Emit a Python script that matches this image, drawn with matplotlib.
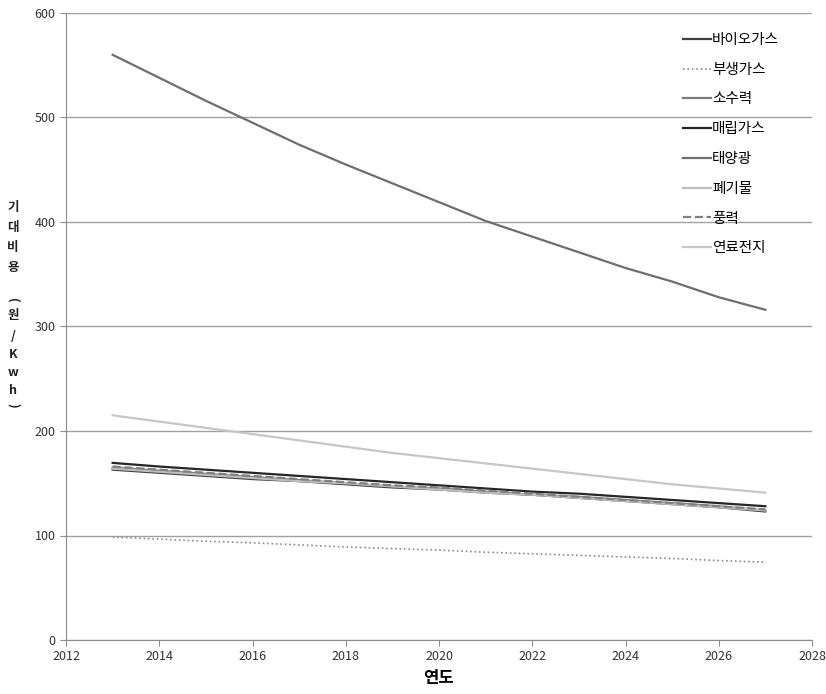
import matplotlib
matplotlib.use('Agg')
import matplotlib.pyplot as plt

plt.rcParams['font.family'] = ['Noto Sans CJK KR', 'DejaVu Sans']

years = list(range(2013, 2028))

# 원/Kwh
bio_gas = [163, 160, 157, 154, 152, 149, 146, 144, 141, 139, 136, 133, 130, 127, 123]
byproduct_gas = [98.5, 96.5, 94.5, 93, 91, 89, 87.5, 86, 84, 82.5, 81, 79.5, 78, 76, 74.5]
small_hydro = [165, 162, 159, 156, 153, 150, 147, 145, 142, 139, 137, 134, 131, 128, 124]
landfill_gas = [169.5, 166, 163, 160, 157, 154, 151, 148, 145, 142, 140, 137, 134, 131, 128]
solar = [560, 538, 516, 495, 474, 455, 437, 419, 401, 386, 371, 356, 343, 328, 316]
waste = [164, 161, 158, 155, 152, 150, 147, 144, 141, 139, 136, 133, 130, 127, 124]
wind = [166, 163, 160, 157, 154, 151, 148, 146, 143, 140, 137, 134, 131, 128, 125]
fuel_cell = [215, 209, 203, 197, 191, 185, 179, 174, 169, 164, 159, 154, 149, 145, 141]

series = [
    ('바이오가스', bio_gas, '#3f3f3f', '-'),
    ('부생가스', byproduct_gas, '#8c8c8c', ':'),
    ('소수력', small_hydro, '#7a7a7a', '-'),
    ('매립가스', landfill_gas, '#262626', '-'),
    ('태양광', solar, '#6e6e6e', '-'),
    ('폐기물', waste, '#bdbdbd', '-'),
    ('풍력', wind, '#808080', '--'),
    ('연료전지', fuel_cell, '#c6c6c6', '-'),
]

W, H = 826, 694
fig = plt.figure(figsize=(W / 100, H / 100), dpi=100)
ax = fig.add_axes([66 / W, 54 / H, (812 - 66) / W, (640 - 13) / H])

for name, vals, col, ls in series:
    lw = 1.2 if ls == ':' else 1.6
    ax.plot(years, vals, color=col, linestyle=ls, linewidth=lw, label=name)

ax.set_xlim(2012, 2028)
ax.set_ylim(0, 600)
ax.set_xticks(range(2012, 2029, 2))
ax.set_yticks(range(0, 601, 100))
ax.grid(axis='y', color='#a0a0a0', linewidth=1)
ax.set_axisbelow(True)
for s in ['top', 'right']:
    ax.spines[s].set_visible(False)
for s in ['left', 'bottom']:
    ax.spines[s].set_color('#8c8c8c')
ax.tick_params(colors='#8c8c8c', labelcolor='#333333', labelsize=9, length=4)

ax.set_xlabel('연도', fontsize=12, fontweight='bold', labelpad=4)

# stacked y label, one character per row
ylab_chars = [('기', 207), ('대', 227), ('비', 247), ('용', 267),
              ('(', 300), ('원', 316), ('/', 337), ('K', 355),
              ('w', 373), ('h', 390), (')', 405)]
for ch, py in ylab_chars:
    rot = -90 if ch in '()' else 0
    fig.text(13 / W, 1 - py / H, ch, ha='center', va='center', fontsize=9,
             fontweight='bold', rotation=rot, color='#222222')

ax.legend(loc='upper left', bbox_to_anchor=(683 / W, 1 - 33 / H),
          bbox_transform=fig.transFigure, frameon=False, borderpad=0,
          borderaxespad=0, fontsize=10.5, handlelength=1.9,
          handletextpad=0.1, labelspacing=1.08)

fig.savefig('out.png', dpi=100)
